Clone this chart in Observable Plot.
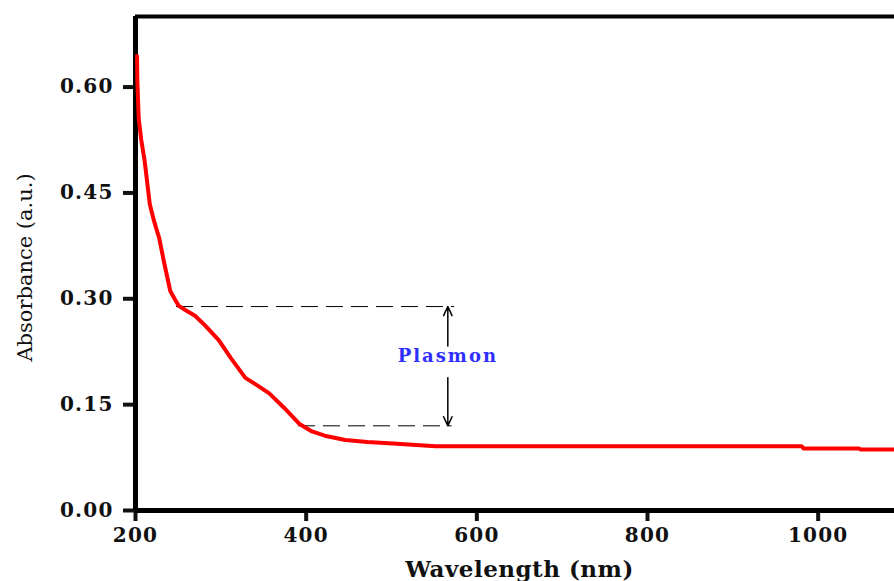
<!DOCTYPE html>
<html>
<head>
<meta charset="utf-8">
<script src="https://cdn.jsdelivr.net/npm/d3@7"></script>
<script src="https://cdn.jsdelivr.net/npm/@observablehq/plot@0.6"></script>
<style>
  html, body { margin: 0; padding: 0; background: #fff; overflow: hidden; width: 894px; height: 581px; }
  #chart svg { display: block; max-width: none !important; }
</style>
</head>
<body>
<div id="chart"></div>
<script>
const wavelength = [200, 200.5, 202, 205, 209, 215, 220, 226, 232, 239, 245, 249, 258, 268, 280, 296, 310, 327, 340, 355, 372, 390, 405, 420, 444, 470, 500, 550, 600, 700, 800, 900, 979, 981, 1046, 1048, 1100];
const absorbance = [0.644, 0.606, 0.555, 0.525, 0.495, 0.434, 0.41, 0.386, 0.35, 0.311, 0.298, 0.290, 0.283, 0.276, 0.262, 0.241, 0.216, 0.188, 0.178, 0.166, 0.146, 0.123, 0.112, 0.106, 0.100, 0.097, 0.095, 0.091, 0.091, 0.091, 0.091, 0.091, 0.091, 0.088, 0.088, 0.0865, 0.0865];

const xTicks = [200, 400, 600, 800, 1000];
const yTicks = [0.00, 0.15, 0.30, 0.45, 0.60];

const dashLines = [
  {x1: 248, x2: 574, y: 0.289},
  {x1: 391, x2: 571, y: 0.120}
];
const arrows = [
  {x: 566, y1: 0.233, y2: 0.289},
  {x: 566, y1: 0.188, y2: 0.120}
];
const annotation = [{x: 566, y: 0.219, text: "Plasmon"}];

const xLabel = "Wavelength (nm)";
const yLabel = "Absorbance (a.u.)";

const data = wavelength.map((w, i) => ({w, a: absorbance[i]}));

const chart = Plot.plot({
  width: 920,
  height: 581,
  marginLeft: 135,
  marginRight: 17,
  marginTop: 16,
  marginBottom: 71,
  style: {fontFamily: "DejaVu Serif", fontWeight: "bold", fontSize: "20px", color: "#111", background: "#fff", overflow: "visible", maxWidth: "none"},
  x: {domain: [200, 1100], label: null},
  y: {domain: [0, 0.7], label: null},
  marks: [
    Plot.axisX(xTicks, {tickSize: 11, strokeWidth: 4, tickPadding: 6, fontSize: 20, fontWeight: "bold", tickFormat: d => String(d), anchor: "bottom", label: null}),
    Plot.axisY(yTicks, {tickSize: 12, strokeWidth: 4, tickPadding: 10, fontSize: 20, fontWeight: "bold", tickFormat: d => d.toFixed(2), anchor: "left", label: null}),
    Plot.ruleY(dashLines, {x1: "x1", x2: "x2", y: "y", stroke: "#000", strokeWidth: 1, strokeDasharray: "17,8"}),
    Plot.arrow(arrows, {x: "x", y1: "y1", y2: "y2", stroke: "#000", strokeWidth: 1.5, headLength: 10, headAngle: 50}),
    Plot.text(annotation, {x: "x", y: "y", text: "text", fill: "#2f2fff", fontSize: 18, fontWeight: "bold", fontFamily: "DejaVu Serif"}),
    Plot.ruleX([200], {stroke: "#000", strokeWidth: 5}),
    Plot.ruleY([0], {stroke: "#000", strokeWidth: 5}),
    Plot.ruleY([0.7], {stroke: "#000", strokeWidth: 4}),
    Plot.ruleX([1100], {stroke: "#000", strokeWidth: 4}),
    Plot.line(data, {x: "w", y: "a", stroke: "#ff0000", strokeWidth: 4, curve: "linear", dx: 1.5}),
    Plot.text([xLabel], {frameAnchor: "bottom", dy: 66, fontSize: 23, fontWeight: "bold", fontFamily: "DejaVu Serif", fill: "#111"}),
    Plot.text([yLabel], {frameAnchor: "left", textAnchor: "middle", dx: -110, dy: 4, rotate: -90, fontSize: 21, fontWeight: "normal", fontFamily: "DejaVu Serif", fill: "#111"})
  ]
});
chart.querySelectorAll("text").forEach(t => {
  const txt = t.textContent;
  if (txt === "Plasmon") t.style.letterSpacing = "2px";
  else if (/^[0-9.]+$/.test(txt)) t.style.letterSpacing = "1.2px";
  else if (txt === xLabel) t.style.letterSpacing = "0.5px";
});
document.getElementById("chart").appendChild(chart);
</script>
</body>
</html>
